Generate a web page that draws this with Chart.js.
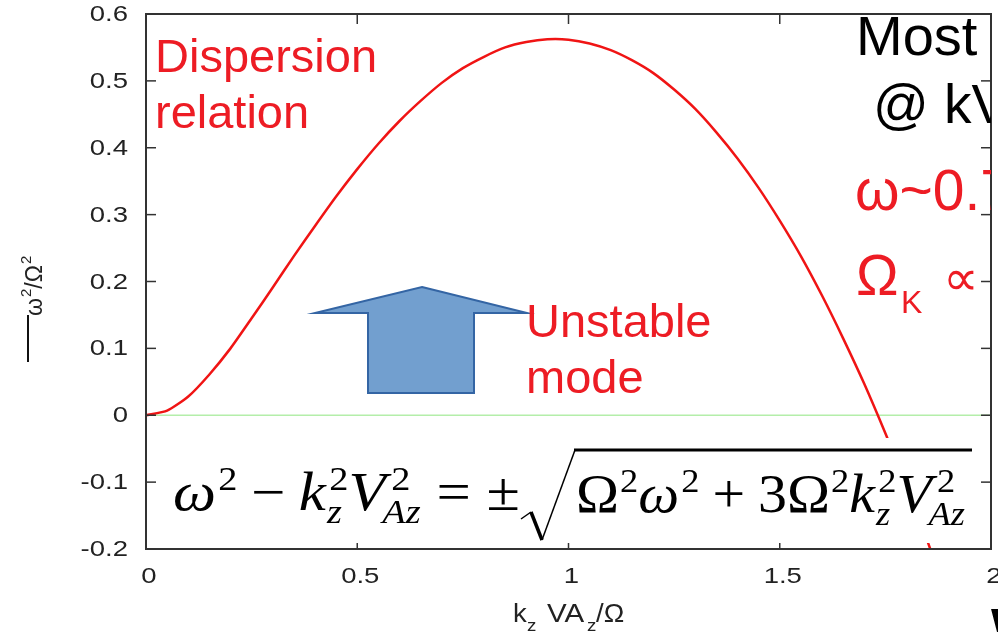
<!DOCTYPE html>
<html>
<head>
<meta charset="utf-8">
<script src="https://cdn.jsdelivr.net/npm/chart.js@4.4.1/dist/chart.umd.min.js"></script>
<style>
html,body{margin:0;padding:0;background:#fff;}
#c{display:block;}
</style>
</head>
<body>
<canvas id="c" width="998" height="632"></canvas>
<script>
// ---- data ----
const kVA = [0,0.05,0.1,0.15,0.2,0.25,0.3,0.35,0.4,0.45,0.5,0.55,0.6,0.65,0.7,0.75,0.8,0.85,0.9,0.95,1.0,1.05,1.1,1.15,1.2,1.25,1.3,1.35,1.4,1.45,1.5,1.55,1.6,1.65,1.7,1.75,1.8,1.85,1.9];
const minusOmega2 = [0,0.007,0.028,0.061,0.100,0.145,0.191,0.238,0.283,0.327,0.368,0.406,0.440,0.470,0.497,0.519,0.536,0.550,0.558,0.5622,0.5616,0.556,0.546,0.531,0.512,0.487,0.458,0.423,0.384,0.340,0.291,0.238,0.179,0.115,0.047,-0.027,-0.105,-0.189,-0.277];
const zeroLineX = [0, 2];
const zeroLineY = [0, 0];
const xTicks = [0, 0.5, 1, 1.5, 2];
const xTickLabels = ['0', '0.5', '1', '1.5', '2'];
const yTicks = [-0.2, -0.1, 0, 0.1, 0.2, 0.3, 0.4, 0.5, 0.6];
const yTickLabels = ['-0.2', '-0.1', '0', '0.1', '0.2', '0.3', '0.4', '0.5', '0.6'];

const RED = '#ed1c24';

function txt(ctx, s, x, y, font, color, align, sx) {
  ctx.save();
  ctx.font = font;
  ctx.fillStyle = color;
  ctx.textAlign = align || 'left';
  ctx.translate(x, y);
  ctx.scale(sx || 1, 1);
  ctx.fillText(s, 0, 0);
  ctx.restore();
}
function line(ctx, x1, y1, x2, y2) {
  ctx.beginPath(); ctx.moveTo(x1, y1); ctx.lineTo(x2, y2); ctx.stroke();
}

// math layout: items laid out in sequence, then stretched to fit [x0,x1]
const MF = '54px "Liberation Serif"', MI = 'italic 54px "Liberation Serif"';
const SF = '34px "Liberation Serif"', SI = 'italic 34px "Liberation Serif"';
function mathRow(ctx, items, x0, x1, base) {
  const ops = [];
  let x = 0;
  ctx.save();
  items.forEach(it => {
    if (it.sp !== undefined) { x += it.sp; return; }
    if (it.t !== undefined) {
      ctx.font = it.f;
      ops.push([it.f, it.t, x, 0]);
      x += ctx.measureText(it.t).width + (it.kern || 0);
      return;
    }
    let w = 0;
    if (it.sup) {
      ctx.font = SF;
      const sx = x + (it.supK || 0);
      ops.push([SF, it.sup, sx, -20]);
      w = Math.max(w, sx - x + ctx.measureText(it.sup).width);
    }
    if (it.sub) {
      ctx.font = SI;
      const bx = x + (it.subK || 0);
      ops.push([SI, it.sub, bx, 13]);
      w = Math.max(w, bx - x + ctx.measureText(it.sub).width);
    }
    x += w + (it.after || 0);
  });
  ctx.restore();
  const s = (x1 - x0) / x;
  ctx.save();
  ctx.translate(x0, base);
  ctx.scale(s, 1);
  ctx.fillStyle = '#000';
  ops.forEach(o => { ctx.font = o[0]; ctx.fillText(o[1], o[2], o[3]); });
  ctx.restore();
}

const overlay = {
  id: 'overlay',
  afterDatasetsDraw(chart) {
    const ctx = chart.ctx, xs = chart.scales.x, ys = chart.scales.y, a = chart.chartArea;
    ctx.save();
    // frame
    ctx.strokeStyle = '#333';
    ctx.lineWidth = 2;
    ctx.strokeRect(a.left, a.top, a.right - a.left, a.bottom - a.top);
    // inward ticks
    ctx.lineWidth = 1.5;
    xTicks.forEach(v => {
      const p = xs.getPixelForValue(v);
      line(ctx, p, a.bottom, p, a.bottom - 10);
      line(ctx, p, a.top, p, a.top + 10);
    });
    yTicks.forEach(v => {
      const p = ys.getPixelForValue(v);
      line(ctx, a.left, p, a.left + 10, p);
      line(ctx, a.right, p, a.right - 10, p);
    });
    // tick labels
    ctx.textBaseline = 'middle';
    const TF = '22px "Liberation Sans"';
    yTicks.forEach((v, i) => {
      txt(ctx, yTickLabels[i], 128, ys.getPixelForValue(v) + 1, TF, '#222', 'right', 1.25);
    });
    xTicks.forEach((v, i) => {
      txt(ctx, xTickLabels[i], xs.getPixelForValue(v) + 3, 577, TF, '#222', 'center', 1.25);
    });
    ctx.textBaseline = 'alphabetic';

    // x axis title
    const XT = '25px "Liberation Sans"', XS = '17px "Liberation Sans"';
    txt(ctx, 'k', 513, 622, XT, '#222', 'left', 1.1);
    txt(ctx, 'z', 527, 631, XS, '#222', 'left', 1.1);
    txt(ctx, 'VA', 547, 622, XT, '#222', 'left', 1.18);
    txt(ctx, 'z', 587, 631, XS, '#222', 'left', 1.1);
    txt(ctx, '/\u03A9', 596, 622, XT, '#222', 'left', 1.1);

    // y axis title (rotated)
    ctx.fillStyle = '#111';
    ctx.fillRect(27, 315, 2, 47);
    ctx.save();
    ctx.translate(42, 316);
    ctx.rotate(-Math.PI / 2);
    ctx.fillStyle = '#222';
    ctx.font = '23px "Liberation Sans"';
    ctx.fillText('\u03C9', 0, 0);
    let w = ctx.measureText('\u03C9').width;
    ctx.font = '15px "Liberation Sans"';
    ctx.fillText('2', w + 1, -11);
    w += 1 + ctx.measureText('2').width;
    ctx.font = '23px "Liberation Sans"';
    ctx.fillText('/\u03A9', w, 0);
    w += ctx.measureText('/\u03A9').width;
    ctx.font = '15px "Liberation Sans"';
    ctx.fillText('2', w + 1, -11);
    ctx.restore();

    // white box behind formula
    ctx.fillStyle = '#fff';
    ctx.fillRect(160, 438, 815, 105);

    // formula
    mathRow(ctx, [
      { t: '\u03C9', f: MI, kern: 2 }, { sup: '2' }, { sp: 12 },
      { t: '\u2212', f: MF }, { sp: 12 },
      { t: 'k', f: MI, kern: 1 }, { sup: '2', sub: 'z', supK: 2 },
      { t: 'V', f: MI, kern: 3 }, { sup: '2', sub: 'Az', supK: 2, subK: -6 }, { sp: 14 },
      { t: '=', f: MF }, { sp: 14 },
      { t: '\u00B1', f: MF }
    ], 173, 520, 510);
    mathRow(ctx, [
      { t: '\u03A9', f: MF, kern: 1 }, { sup: '2' },
      { t: '\u03C9', f: MI, kern: 2 }, { sup: '2' }, { sp: 12 },
      { t: '+', f: MF }, { sp: 12 },
      { t: '3', f: MF }, { t: '\u03A9', f: MF, kern: 1 }, { sup: '2' },
      { t: 'k', f: MI, kern: 1 }, { sup: '2', sub: 'z', supK: 2 },
      { t: 'V', f: MI, kern: 3 }, { sup: '2', sub: 'Az', supK: 2, subK: -6 }
    ], 576, 965, 512);
    // radical sign + vinculum
    ctx.strokeStyle = '#000';
    ctx.lineCap = 'butt';
    ctx.lineWidth = 1.5;
    line(ctx, 521, 519, 531, 512);
    ctx.lineWidth = 3.5;
    line(ctx, 531, 512, 542, 540);
    ctx.lineWidth = 1.5;
    line(ctx, 542, 540, 575, 450);
    ctx.lineWidth = 3;
    line(ctx, 574, 450, 972, 450);

    // arrow
    ctx.beginPath();
    ctx.moveTo(422, 287);
    ctx.lineTo(527, 313);
    ctx.lineTo(474, 313);
    ctx.lineTo(474, 393);
    ctx.lineTo(368, 393);
    ctx.lineTo(368, 313);
    ctx.lineTo(315, 313);
    ctx.closePath();
    ctx.fillStyle = '#729fcf';
    ctx.fill();
    ctx.strokeStyle = '#3465a4';
    ctx.lineWidth = 2;
    ctx.lineJoin = 'miter';
    ctx.stroke();

    // red annotations
    const R46 = '47px "Liberation Sans"';
    txt(ctx, 'Dispersion', 155, 72, R46, RED);
    txt(ctx, 'relation', 155, 128, R46, RED);
    txt(ctx, 'Unstable', 526, 337, R46, RED);
    txt(ctx, 'mode', 526, 393, R46, RED);

    // right-side texts (clipped at the frame)
    ctx.save();
    ctx.beginPath();
    ctx.rect(0, 0, 991, 632);
    ctx.clip();
    txt(ctx, 'Most', 856, 55, '56px "Liberation Sans"', '#000');
    txt(ctx, '@ kV', 873, 123, '55px "Liberation Sans"', '#000');
    txt(ctx, '\u03C9~0.7', 855, 210, '57px "Liberation Sans"', RED);
    ctx.restore();
    txt(ctx, '\u03A9', 856, 295, '57px "Liberation Sans"', RED);
    txt(ctx, 'K', 901, 313, '32px "Liberation Sans"', RED);
    txt(ctx, '\u221D', 943, 295, '50px "DejaVu Sans"', RED);
    txt(ctx, 'W', 991, 646, 'bold 54px "Liberation Sans"', '#000');

    ctx.restore();
  }
};

new Chart(document.getElementById('c'), {
  type: 'scatter',
  data: {
    datasets: [
      {
        label: 'dispersion',
        data: kVA.map((x, i) => ({ x: x, y: minusOmega2[i] })),
        showLine: true,
        borderColor: '#f01414',
        borderWidth: 2.5,
        pointRadius: 0,
        tension: 0.2,
        order: 0
      },
      {
        label: 'zero',
        data: zeroLineX.map((x, i) => ({ x: x, y: zeroLineY[i] })),
        showLine: true,
        borderColor: '#b4eeaa',
        borderWidth: 1.5,
        pointRadius: 0,
        order: 1
      }
    ]
  },
  options: {
    responsive: false,
    devicePixelRatio: 1,
    animation: false,
    layout: { padding: { left: 146, right: 7, top: 14, bottom: 83 } },
    scales: {
      x: { type: 'linear', min: 0, max: 2, display: false },
      y: { type: 'linear', min: -0.2, max: 0.6, display: false }
    },
    plugins: { legend: { display: false }, tooltip: { enabled: false } }
  },
  plugins: [overlay]
});
</script>
</body>
</html>
